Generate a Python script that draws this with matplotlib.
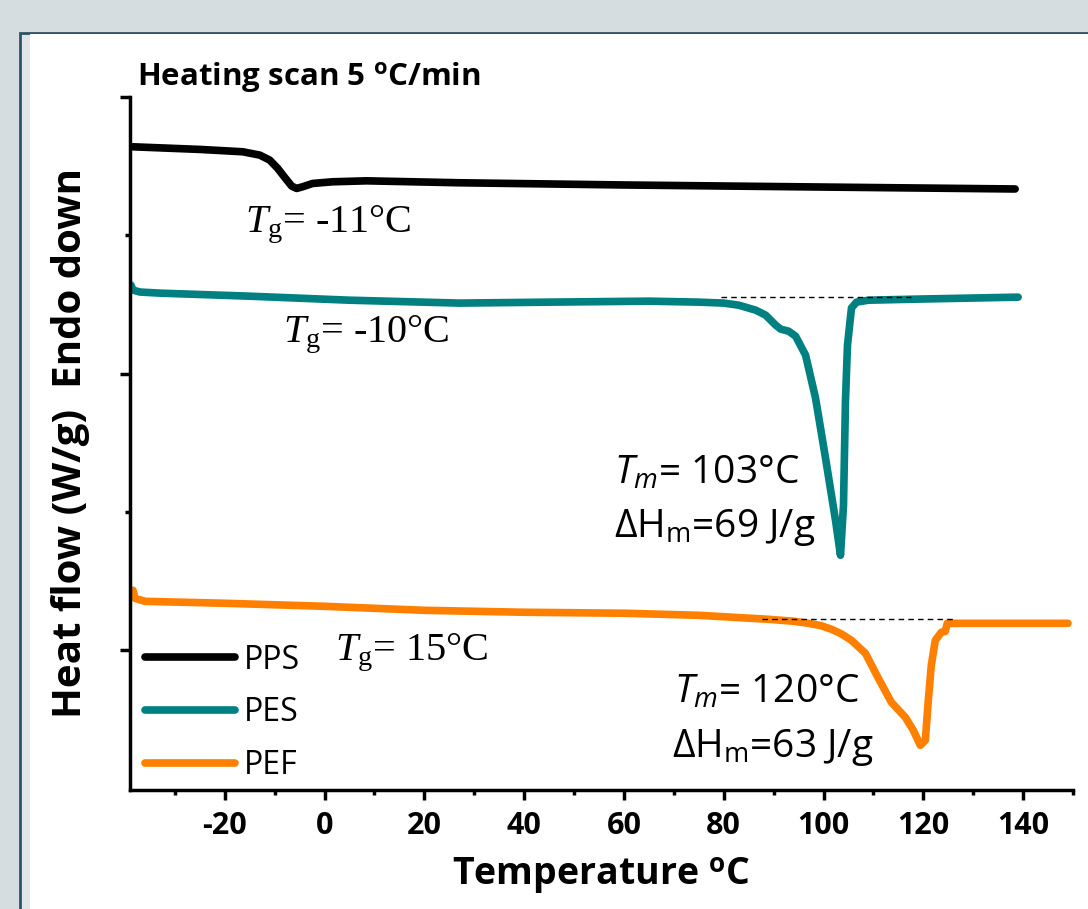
import matplotlib
matplotlib.use("Agg")
import matplotlib.pyplot as plt
from matplotlib.patches import Rectangle

plt.rcParams['font.family'] = ['Open Sans', 'DejaVu Sans']
plt.rcParams['axes.unicode_minus'] = False
plt.rcParams['mathtext.fontset'] = 'custom'
plt.rcParams['mathtext.rm'] = 'Liberation Serif'
plt.rcParams['mathtext.it'] = 'Liberation Serif:italic'
plt.rcParams['mathtext.sf'] = 'Open Sans:italic'
plt.rcParams['mathtext.tt'] = 'Open Sans'

# DSC traces (temperature in C, heat flow shifted, arbitrary units)
pps_t = [-38.4, -25, -16.4, -13, -11, -9.4, -8, -6.6, -5.6, -4.4, -2.4, 1.6, 8.4, 27, 60, 100, 138.4]
pps_q = [3.640, 3.621, 3.604, 3.580, 3.544, 3.484, 3.419, 3.356, 3.339, 3.351, 3.375, 3.387, 3.394,
         3.380, 3.364, 3.349, 3.335]

pes_t = [-38.8, -38.4, -37, -33, -15, 5, 27, 45, 65, 75, 80, 83, 86.4, 88.4, 90.4, 91.4, 93, 94.4, 96.4,
         98.4, 100.4, 102.4, 103.4, 104, 104.4, 104.8, 105.6, 106.6, 109, 119, 139]
pes_q = [2.640, 2.604, 2.590, 2.582, 2.560, 2.531, 2.510, 2.517, 2.524, 2.517, 2.510, 2.495, 2.459,
         2.423, 2.351, 2.322, 2.307, 2.271, 2.134, 1.823, 1.389, 0.940, 0.687, 1.049, 1.808, 2.206,
         2.474, 2.517, 2.531, 2.539, 2.553]

pef_t = [-38.4, -38, -36, -20, 0, 20, 40, 60, 75, 89, 94, 97, 99.5, 101.6, 103.6, 105.6, 108.4, 111,
         113.6, 116.4, 118, 119.4, 120.4, 121, 121.6, 122.4, 123.6, 124.4, 124.8, 135, 149]
pef_q = [0.434, 0.376, 0.354, 0.340, 0.318, 0.289, 0.275, 0.268, 0.253, 0.224, 0.210, 0.195, 0.178,
         0.152, 0.118, 0.072, -0.022, -0.203, -0.376, -0.485, -0.579, -0.687, -0.651, -0.362, -0.108,
         0.072, 0.130, 0.137, 0.195, 0.195, 0.195]

# integration baselines
pes_base_t = [79.4, 117.6]
pes_base_q = [2.553, 2.553]
pef_base_t = [87.6, 126.4]
pef_base_q = [0.224, 0.224]

fig = plt.figure(figsize=(10.88, 9.09), dpi=100)
fig.patch.set_facecolor('#d5dde1')
fig.patches.append(Rectangle((20 / 1088, -0.1), 1.2, (876 / 909) + 0.1, transform=fig.transFigure,
                             facecolor='#dfe5e8', edgecolor='#2e5566', linewidth=2, zorder=-10))
fig.patches.append(Rectangle((30 / 1088, -0.1), 1.2, (875 / 909) + 0.1, transform=fig.transFigure,
                             facecolor='white', edgecolor='none', zorder=-9))

ax = fig.add_axes([130 / 1088, 119 / 909, 943 / 1088, 693 / 909])
ax.patch.set_alpha(0)

ax.plot(pps_t, pps_q, color='black', lw=5.5, label='PPS', solid_capstyle='round', solid_joinstyle='round')
ax.plot(pes_t, pes_q, color='#008080', lw=5.5, label='PES', solid_capstyle='round', solid_joinstyle='round')
ax.plot(pef_t, pef_q, color='#ff8000', lw=5.5, label='PEF', solid_capstyle='round', solid_joinstyle='round')
ax.plot(pes_base_t, pes_base_q, color='black', lw=1, dashes=(4, 3))
ax.plot(pef_base_t, pef_base_q, color='black', lw=1, dashes=(4, 3))

ax.set_xlim(-39, 149.6)
ax.set_ylim(-1.01, 4)
ax.set_xticks(range(-20, 141, 20))
ax.set_xticks(range(-30, 151, 20), minor=True)
ax.set_yticks([0, 2, 4])
ax.set_yticks([1, 3], minor=True)
ax.set_yticklabels([])
for lab in ax.get_xticklabels():
    lab.set_fontweight('bold')
ax.tick_params(axis='both', which='major', direction='out', length=7, width=2.5, labelsize=22, pad=8)
ax.tick_params(axis='both', which='minor', direction='out', length=3.5, width=2.5)
for s in ['top', 'right']:
    ax.spines[s].set_visible(False)
for s in ['left', 'bottom']:
    ax.spines[s].set_linewidth(2.5)

ax.set_xlabel('Temperature $^{\\mathregular{o}}$C', fontsize=27, fontweight='bold', labelpad=10)
ax.set_ylabel('Heat flow (W/g)  Endo down', fontsize=29, fontweight='bold', labelpad=14)

fig.text(137 / 1088, (909 - 85) / 909, 'Heating scan 5 $^{\\mathregular{o}}$C/min', fontsize=22.5,
         fontweight='bold', va='baseline', ha='left')

serif = ['Liberation Serif', 'DejaVu Serif']
ax.text(-16, 3.02, r'$T_{\mathrm{g}}$= -11°C', family=serif, fontsize=29, va='baseline')
ax.text(-8.4, 2.23, r'$T_{\mathrm{g}}$= -10°C', family=serif, fontsize=29, va='baseline')
ax.text(2, -0.072, r'$T_{\mathrm{g}}$= 15°C', family=serif, fontsize=29, va='baseline')

ax.text(58, 1.208, r'$\mathsf{T}_{\mathsf{m}}$= 103°C', fontsize=28, va='baseline')
ax.text(58, 0.817, r'ΔH$_{\mathtt{m}}$=69 J/g', fontsize=28, va='baseline')
ax.text(70, -0.376, r'$\mathsf{T}_{\mathsf{m}}$= 120°C', fontsize=28, va='baseline')
ax.text(69.6, -0.774, r'ΔH$_{\mathtt{m}}$=63 J/g', fontsize=28, va='baseline')

ax.legend(loc='upper left', bbox_to_anchor=(0.006, 0.225), frameon=False, fontsize=23,
          handlelength=2.8, handletextpad=0.3, labelspacing=0.62, borderaxespad=0.1, borderpad=0.2)

fig.savefig('out.png', dpi=100)
